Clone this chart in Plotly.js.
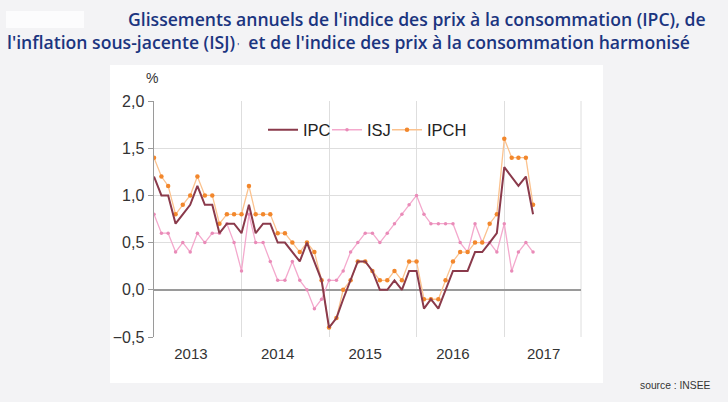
<!DOCTYPE html>
<html>
<head>
<meta charset="utf-8">
<script src="https://cdn.plot.ly/plotly-3.0.1.min.js"></script>
<style>
html,body{margin:0;padding:0;background:#f3f3f5;}
#chart{width:728px;height:402px;}
</style>
</head>
<body>
<div id="chart"></div>
<script>
// Monthly data, Jan 2013 - May 2017 (year-on-year change, %)
var months = [
 '2013-01','2013-02','2013-03','2013-04','2013-05','2013-06','2013-07','2013-08','2013-09','2013-10','2013-11','2013-12',
 '2014-01','2014-02','2014-03','2014-04','2014-05','2014-06','2014-07','2014-08','2014-09','2014-10','2014-11','2014-12',
 '2015-01','2015-02','2015-03','2015-04','2015-05','2015-06','2015-07','2015-08','2015-09','2015-10','2015-11','2015-12',
 '2016-01','2016-02','2016-03','2016-04','2016-05','2016-06','2016-07','2016-08','2016-09','2016-10','2016-11','2016-12',
 '2017-01','2017-02','2017-03','2017-04','2017-05'
];
var ipc = [
 1.2,1.0,1.0,0.7,0.8,0.9,1.1,0.9,0.9,0.6,0.7,0.7,
 0.6,0.9,0.6,0.7,0.7,0.5,0.5,0.4,0.3,0.5,0.3,0.1,
 -0.4,-0.3,-0.1,0.1,0.3,0.3,0.2,0.0,0.0,0.1,0.0,0.2,
 0.2,-0.2,-0.1,-0.2,0.0,0.2,0.2,0.2,0.4,0.4,0.5,0.6,
 1.3,1.2,1.1,1.2,0.8
];
var isj = [
 0.8,0.6,0.6,0.4,0.5,0.4,0.6,0.5,0.6,0.6,0.7,0.5,
 0.2,0.8,0.5,0.5,0.3,0.1,0.1,0.3,0.1,0.0,-0.2,-0.1,
 0.1,0.1,0.2,0.4,0.5,0.6,0.6,0.5,0.6,0.7,0.8,0.9,
 1.0,0.8,0.7,0.7,0.7,0.7,0.5,0.4,0.7,0.5,0.5,0.4,
 0.7,0.2,0.4,0.5,0.4
];
var ipch = [
 1.4,1.2,1.1,0.8,0.9,1.0,1.2,1.0,1.0,0.7,0.8,0.8,
 0.8,1.1,0.8,0.8,0.8,0.6,0.6,0.5,0.4,0.5,0.4,0.1,
 -0.4,-0.3,0.0,0.1,0.3,0.3,0.2,0.1,0.1,0.2,0.1,0.3,
 0.3,-0.1,-0.1,-0.1,0.1,0.3,0.4,0.4,0.5,0.5,0.7,0.8,
 1.6,1.4,1.4,1.4,0.9
];
var seriesNames = ['IPC','ISJ','IPCH'];
var yearLabels = ['2013','2014','2015','2016','2017'];
var yearLabelPos = ['2013-06-04','2014-06-01','2015-06-01','2016-06-01','2017-06-14'];
var yearBounds = ['2014-01-01','2015-01-01','2016-01-01','2017-01-01'];
var titleLine1 = "Glissements annuels de l'indice des prix à la consommation (IPC), de";
var titleLine2 = "l'inflation sous-jacente (ISJ)<span style='font-size:8px'> '</span>  et de l'indice des prix à la consommation harmonisé";

// pixel helpers for layout placement
var W = 728, H = 402, ML = 154, MR = 147, MT = 101, MB = 65;
var PW = W - ML - MR, PH = H - MT - MB;
function fx(px){ return (px - ML) / PW; }
function fy(py){ return (H - MB - py) / PH; }

var traces = [
 {x: months, y: isj, name: seriesNames[1], type: 'scatter', mode: 'lines+markers', legend: 'legend2',
  line: {color: '#f4a9cd', width: 1.3}, marker: {color: '#e98bb8', size: 3.5}},
 {x: months, y: ipch, name: seriesNames[2], type: 'scatter', mode: 'lines+markers', legend: 'legend3',
  line: {color: '#fbc28e', width: 1.3}, marker: {color: '#f2872c', size: 4.5}},
 {x: months, y: ipc, name: seriesNames[0], type: 'scatter', mode: 'lines', legend: 'legend',
  line: {color: '#8a3a4b', width: 2}}
];

var legFont = {family: 'Liberation Sans, Arial, sans-serif', size: 16.5, color: '#222'};
function legendAt(px){
  return {orientation: 'h', x: fx(px), y: fy(130), xanchor: 'left', yanchor: 'middle',
    bgcolor: 'rgba(0,0,0,0)', font: legFont, itemwidth: 30};
}

var layout = {
 width: W, height: H,
 margin: {l: ML, r: MR, t: MT, b: MB, pad: 0},
 paper_bgcolor: '#f3f3f5',
 plot_bgcolor: 'rgba(0,0,0,0)',
 separators: ', ',
 showlegend: true,
 legend: legendAt(263),
 legend2: legendAt(327),
 legend3: legendAt(387),
 xaxis: {
  type: 'date',
  range: ['2013-01-01', '2017-11-17'],
  tickmode: 'array', tickvals: yearLabelPos, ticktext: yearLabels,
  showgrid: false, ticks: '', zeroline: false, showline: false,
  tickfont: {family: 'Liberation Sans, Arial, sans-serif', size: 15, color: '#333'},
  ticklabelstandoff: 6,
  minor: {tickmode: 'array', tickvals: yearBounds, showgrid: true, gridcolor: '#dedede', gridwidth: 1, ticks: ''}
 },
 yaxis: {
  range: [-0.5, 2.0], dtick: 0.5, tick0: 0, tickformat: '.1f',
  showgrid: true, gridcolor: '#dedede', gridwidth: 1,
  zeroline: true, zerolinecolor: '#9a9a9a', zerolinewidth: 1.5,
  showline: true, linecolor: '#9a9a9a', linewidth: 1.5,
  ticks: 'outside', ticklen: 5, tickcolor: '#9a9a9a',
  tickfont: {family: 'Liberation Sans, Arial, sans-serif', size: 16, color: '#333'}
 },
 shapes: [
  {type: 'rect', xref: 'paper', yref: 'paper', x0: fx(110), x1: fx(603), y0: fy(383), y1: fy(65),
   fillcolor: '#ffffff', line: {width: 0}, layer: 'below'},
  {type: 'rect', xref: 'paper', yref: 'paper', x0: fx(6), x1: fx(84), y0: fy(28), y1: fy(11),
   fillcolor: '#ffffff', opacity: 0.75, line: {width: 0}, layer: 'below'},
  {type: 'line', xref: 'paper', yref: 'paper', x0: 1, x1: 1, y0: 0, y1: 1,
   line: {color: '#dedede', width: 1}, layer: 'below'}
 ],
 annotations: [
  {text: titleLine1, xref: 'paper', yref: 'paper', x: fx(127), y: fy(19), xanchor: 'left', yanchor: 'middle',
   showarrow: false, borderpad: 0, font: {family: 'Open Sans, sans-serif', size: 17.6, color: '#1b3580', weight: 600}},
  {text: titleLine2, xref: 'paper', yref: 'paper', x: fx(6), y: fy(42), xanchor: 'left', yanchor: 'middle',
   showarrow: false, borderpad: 0, font: {family: 'Open Sans, sans-serif', size: 17.6, color: '#1b3580', weight: 600}},
  {text: '%', xref: 'paper', yref: 'paper', x: fx(152), y: fy(78), xanchor: 'center', yanchor: 'middle',
   showarrow: false, font: {family: 'Liberation Sans, Arial, sans-serif', size: 14, color: '#333'}},
  {text: 'source : INSEE', xref: 'paper', yref: 'paper', x: fx(713), y: fy(385), xanchor: 'right', yanchor: 'middle',
   showarrow: false, font: {family: 'Liberation Sans, Arial, sans-serif', size: 10.3, color: '#333'}}
 ]
};

Plotly.newPlot('chart', traces, layout, {displayModeBar: false, staticPlot: true});
</script>
</body>
</html>
